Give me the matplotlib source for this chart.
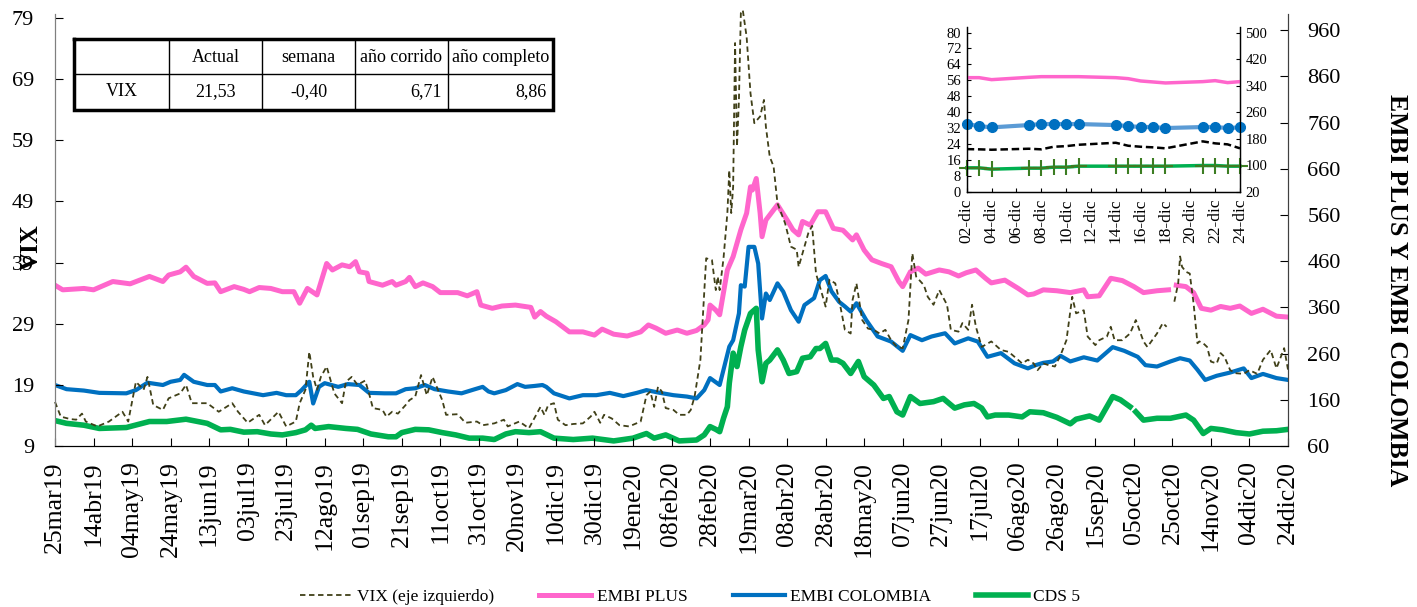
import matplotlib
matplotlib.use("Agg")
import matplotlib.pyplot as plt
import numpy as np
import pandas as pd

plt.rcParams['font.family'] = ['Liberation Serif', 'DejaVu Serif']

nan = np.nan
start = pd.Timestamp("2019-03-25")

# ---- datos diarios (dias desde 25mar19) ----
vix_day = [0, 3, 8, 11, 14, 16, 22, 28, 35, 38,
           42, 46, 48, 51, 56, 59, 65, 68, 71, 79,
           85, 92, 95, 100, 106, 109, 116, 120, 125, 127,
           130, 132, 134, 136, 138, 141, 143, 145, 149, 151,
           154, 157, 161, 163, 165, 170, 172, 175, 178, 182,
           184, 187, 190, 193, 196, 201, 203, 209, 213, 219,
           222, 228, 233, 235, 241, 246, 252, 254, 256, 259,
           261, 265, 269, 274, 278, 280, 283, 285, 289, 293,
           298, 304, 307, 309, 311, 313, 315, 317, 321, 324,
           328, 330, 332, 335, 338, 341, 343, 344, 345, 347,
           349, 350, 351, 352, 353, 354, 355, 356, 357, 359,
           361, 363, 366, 368, 369, 371, 373, 375, 379, 382,
           385, 386, 388, 391, 393, 395, 398, 400, 402, 405,
           407, 410, 413, 414, 416, 419, 422, 425, 428, 431,
           434, 437, 440, 443, 445, 447, 451, 453, 456, 459,
           463, 465, 469, 471, 474, 476, 478, 481, 486, 491,
           495, 498, 502, 505, 508, 510, 513, 516, 519, 522,
           525, 528, 530, 534, 536, 540, 542, 546, 548, 550,
           554, 558, 561, 565, 567, 572, 575, 577, 579, 581,
           583, 584, 585, 587, 589, 591, 593, 594, 596, 598,
           600, 603, 605, 607, 610, 613, 617, 620, 624, 627,
           631, 634, 638, 640]
vix = [16.2, 13.8, 13.4, 13.3, 14.3, 13.0, 12.2, 13.0, 14.6, 13.0,
       19.5, 18.2, 20.3, 15.7, 14.9, 16.8, 17.6, 19.0, 16.0, 16.0,
       14.6, 16.0, 14.6, 12.8, 14.1, 12.4, 14.6, 12.2, 13.0, 16.0,
       18.2, 24.4, 20.3, 18.2, 20.3, 22.0, 19.8, 17.6, 16.0, 19.5,
       20.3, 19.0, 19.7, 17.6, 15.2, 14.9, 13.8, 14.6, 14.3, 15.7,
       16.5, 17.1, 20.6, 17.3, 20.3, 16.5, 14.1, 14.2, 12.8, 13.0,
       12.4, 12.7, 13.3, 12.2, 13.0, 11.9, 15.4, 14.1, 15.7, 16.0,
       13.3, 12.4, 12.6, 12.7, 13.8, 14.6, 12.8, 14.1, 13.5, 12.4,
       12.2, 13.0, 17.3, 17.9, 15.4, 18.7, 17.9, 15.2, 14.9, 14.1,
       14.1, 14.9, 17.1, 23.1, 39.7, 39.4, 34.5, 36.7, 34.5, 39.7,
       47.1, 54.1, 47.1, 51.4, 74.9, 58.0, 65.6, 79.8, 80.3, 75.9,
       66.7, 61.8, 62.9, 65.6, 61.2, 56.3, 54.7, 48.7, 45.4, 41.6,
       41.1, 38.3, 40.5, 43.8, 45.0, 37.2, 34.0, 31.8, 36.2, 35.6,
       32.9, 28.0, 27.4, 32.9, 35.6, 29.6, 28.2, 28.0, 27.4, 28.0,
       26.3, 25.2, 25.0, 29.6, 40.5, 36.7, 35.3, 33.4, 32.1, 34.5,
       32.1, 28.0, 27.7, 29.1, 28.0, 32.1, 28.5, 25.2, 26.1, 24.7,
       24.4, 23.6, 22.5, 23.1, 22.5, 21.4, 22.5, 22.2, 22.0, 23.9,
       26.3, 33.4, 30.7, 31.2, 26.9, 25.5, 26.3, 26.9, 28.5, 26.3,
       26.3, 27.4, 29.6, 26.1, 25.2, 27.4, 29.1, 28.5, nan, 32.6,
       35.6, 40.0, 38.3, 37.5, 37.2, 32.3, 25.8, 26.1, 25.8, 25.2,
       22.8, 22.5, 24.2, 23.6, 21.4, 20.9, 20.8, 21.4, 20.8, 23.1,
       24.7, 21.7, 25.0, 21.5]

embi_plus_day = [0, 4, 15, 20, 30, 39, 44, 49, 56, 59,
                 65, 68, 72, 79, 83, 86, 93, 98, 101, 106,
                 112, 118, 124, 127, 131, 136, 141, 144, 149, 153,
                 156, 158, 162, 163, 170, 175, 177, 182, 184, 187,
                 191, 196, 200, 204, 209, 214, 219, 221, 227, 232,
                 239, 244, 247, 249, 252, 255, 260, 267, 274, 280,
                 284, 290, 297, 304, 308, 312, 317, 323, 328, 333,
                 337, 339, 340, 343, 345, 349, 352, 356, 359, 361,
                 362, 364, 366, 367, 369, 375, 380, 383, 386, 388,
                 392, 396, 400, 404, 409, 414, 416, 420, 424, 429,
                 434, 438, 440, 444, 448, 452, 459, 464, 469, 473,
                 478, 483, 486, 493, 500, 505, 508, 513, 520, 527,
                 534, 536, 542, 548, 554, 560, 565, 572, 578, 580,
                 582, 587, 591, 595, 600, 605, 610, 615, 621, 627,
                 634, 640]
embi_plus = [408, 398, 401, 398, 416, 411, 419, 427, 416, 430,
             437, 447, 427, 412, 413, 394, 405, 399, 394, 403,
             401, 394, 394, 369, 401, 387, 455, 441, 452, 448,
             459, 437, 434, 416, 408, 416, 408, 416, 425, 405,
             413, 405, 392, 392, 392, 385, 394, 365, 358, 363,
             365, 362, 360, 339, 351, 341, 329, 307, 307, 300,
             313, 302, 298, 307, 322, 315, 304, 311, 304, 310,
             322, 333, 365, 354, 344, 441, 470, 528, 564, 621,
             614, 639, 564, 513, 549, 582, 549, 528, 517, 546,
             538, 567, 567, 531, 527, 506, 517, 484, 463, 455,
             448, 416, 405, 437, 445, 432, 441, 437, 428, 435,
             441, 423, 413, 419, 401, 387, 389, 398, 396, 392,
             398, 383, 385, 423, 418, 405, 392, 396, 398, nan,
             408, 405, 392, 358, 354, 362, 358, 363, 347, 356,
             341, 339]

embi_col_day = [0, 6, 15, 23, 37, 42, 48, 56, 60, 65,
                67, 72, 79, 83, 86, 92, 98, 103, 108, 115,
                120, 125, 128, 132, 134, 137, 140, 147, 152, 158,
                163, 171, 177, 182, 187, 192, 197, 204, 211, 218,
                222, 225, 228, 234, 240, 244, 249, 253, 255, 259,
                267, 274, 281, 288, 295, 302, 307, 314, 321, 328,
                333, 337, 340, 345, 350, 352, 355, 356, 358, 360,
                363, 365, 367, 369, 371, 375, 378, 382, 386, 389,
                394, 397, 400, 403, 407, 410, 413, 416, 421, 427,
                434, 440, 444, 450, 455, 462, 467, 474, 479, 484,
                491, 498, 505, 509, 513, 518, 522, 527, 534, 541,
                549, 555, 562, 566, 572, 579, 584, 589, 593, 597,
                603, 610, 617, 621, 627, 634, 640]
embi_col = [192, 183, 180, 175, 174, 181, 197, 192, 199, 203,
            214, 199, 192, 192, 178, 185, 178, 174, 170, 175,
            170, 170, 181, 199, 152, 188, 196, 188, 194, 192,
            175, 174, 174, 183, 185, 192, 183, 178, 174, 183,
            188, 178, 174, 181, 194, 188, 190, 192, 188, 174,
            163, 170, 170, 175, 168, 175, 181, 175, 170, 167,
            163, 181, 207, 192, 275, 289, 347, 408, 405, 491,
            491, 455, 336, 390, 376, 412, 394, 354, 329, 365,
            380, 419, 428, 395, 372, 362, 351, 369, 333, 297,
            286, 266, 300, 289, 297, 304, 282, 293, 286, 253,
            261, 239, 228, 235, 240, 243, 255, 243, 252, 245,
            274, 266, 253, 235, 232, 243, 250, 245, 225, 203,
            212, 219, 228, 207, 216, 207, 203]

cds_day = [0, 6, 15, 23, 37, 49, 58, 68, 79, 86,
           91, 98, 105, 112, 118, 125, 130, 133, 135, 142,
           151, 157, 164, 173, 177, 180, 187, 194, 201, 208,
           215, 222, 228, 234, 239, 246, 252, 259, 269, 279,
           290, 300, 307, 311, 317, 324, 333, 337, 340, 343,
           345, 347, 349, 350, 352, 354, 356, 358, 361, 364,
           365, 367, 369, 371, 375, 378, 381, 385, 388, 392,
           395, 397, 400, 403, 406, 409, 413, 417, 420, 425,
           430, 433, 437, 440, 444, 449, 456, 461, 467, 472,
           477, 481, 484, 488, 495, 502, 506, 513, 520, 527,
           530, 537, 542, 549, 553, 558, 559, 561, 565, 572,
           579, 587, 591, 596, 600, 606, 613, 620, 627, 634,
           640]
cds = [115, 109, 105, 98, 100, 113, 113, 118, 109, 95,
       96, 90, 91, 86, 84, 89, 95, 105, 98, 102,
       98, 96, 86, 80, 80, 89, 96, 95, 89, 84,
       77, 77, 74, 86, 91, 89, 91, 77, 74, 77,
       71, 77, 87, 77, 84, 71, 73, 84, 102, 96,
       91, 120, 145, 196, 261, 232, 275, 311, 347, 358,
       268, 199, 239, 246, 268, 246, 217, 221, 250, 253,
       271, 271, 282, 246, 246, 239, 217, 243, 210, 192,
       163, 167, 134, 127, 167, 152, 156, 163, 142, 149,
       152, 142, 123, 127, 127, 123, 134, 132, 122, 108,
       118, 125, 116, 167, 160, 145, nan, 134, 116, 120,
       120, 127, 116, 87, 98, 95, 89, 86, 92, 93,
       96]

x_tick_labels = ["25mar19", "14abr19", "04may19", "24may19", "13jun19", "03jul19",
                 "23jul19", "12ago19", "01sep19", "21sep19", "11oct19", "31oct19",
                 "20nov19", "10dic19", "30dic19", "19ene20", "08feb20", "28feb20",
                 "19mar20", "08abr20", "28abr20", "18may20", "07jun20", "27jun20",
                 "17jul20", "06ago20", "26ago20", "15sep20", "05oct20", "25oct20",
                 "14nov20", "04dic20", "24dic20"]

# ---- detalle diciembre 2020 ----
inset_day = [2, 3, 4, 7, 8, 9, 10, 11, 14, 15, 16, 17, 18, 21, 22, 23, 24]
inset_vix = [21.4, 21.3, 21.1, 21.6, 21.3, 22.6, 22.9, 23.6, 24.6, 23.1,
             22.6, 22.3, 21.8, 25.3, 24.3, 23.8, 21.8]
inset_embi_plus = [364, 364, 358, 365, 367, 367, 367, 367, 364, 361,
                   354, 351, 348, 352, 355, 349, 352]
inset_embi_col = [224, 218, 214, 221, 224, 224, 224, 224, 221, 218,
                  215, 215, 212, 215, 215, 212, 214]
inset_cds = [92, 92, 88, 91, 91, 94, 94, 97, 97, 97,
             97, 97, 97, 99, 99, 97, 97]

# ---- tabla ----
table_header = ["", "Actual", "semana", "año corrido", "año completo"]
table_row = ["VIX", "21,53", "-0,40", "6,71", "8,86"]

PINK = "#FF66CC"
BLUE = "#0070C0"
GREEN = "#00B050"
OLIVE = "#404018"


def to_dates(days):
    return start + pd.to_timedelta(days, unit="D")


W, H = 1417, 607
fig = plt.figure(figsize=(W / 100, H / 100), dpi=100)

ax = fig.add_axes([55 / W, 161 / H, 1233 / W, 432 / H])
ax2 = ax.twinx()
ax.set_zorder(ax2.get_zorder() + 1)
ax.patch.set_visible(False)

l_plus, = ax2.plot(to_dates(embi_plus_day), embi_plus, color=PINK, lw=3.6)
l_col, = ax2.plot(to_dates(embi_col_day), embi_col, color=BLUE, lw=3.0)
l_cds, = ax2.plot(to_dates(cds_day), cds, color=GREEN, lw=4.0)
l_vix, = ax.plot(to_dates(vix_day), vix, color=OLIVE, lw=1.3,
                 ls=(0, (3, 2)), clip_on=False)

ax.set_xlim(start, start + pd.Timedelta(days=640))
ax.set_ylim(9, 79.65)
ax2.set_ylim(60, 995)
ax.set_yticks(np.arange(9, 80, 10))
ax2.set_yticks(np.arange(60, 961, 100))
tick_pos = [start + pd.Timedelta(days=20 * i) for i in range(len(x_tick_labels))]
ax.set_xticks(tick_pos)
ax.set_xticklabels(x_tick_labels, rotation=90, fontsize=18.5)

for a in (ax, ax2):
    a.spines["top"].set_visible(False)
    a.spines["left"].set_color("#7f7f7f")
    a.spines["right"].set_color("#404040")
    a.spines["bottom"].set_color("black")
ax.tick_params(axis="x", direction="in", length=6, pad=11)
ax.tick_params(axis="y", direction="in", length=6, pad=15, labelsize=16)
ax2.tick_params(axis="y", direction="in", length=6, pad=14, labelsize=16)

fig.text(31 / W, 1 - 247 / H, "VIX", rotation=90, fontsize=18,
         fontweight="bold", ha="center", va="center")
fig.text(1396 / W, 1 - 290 / H, "EMBI PLUS Y EMBI COLOMBIA", rotation=270,
         fontsize=18.5, fontweight="bold", ha="center", va="center")

fig.legend([l_vix, l_plus, l_col, l_cds],
           ["VIX (eje izquierdo)", "EMBI PLUS", "EMBI COLOMBIA", "CDS 5"],
           loc="center", bbox_to_anchor=(0.487, 0.017), ncol=4, frameon=False,
           fontsize=12.5, handlelength=3.0, handletextpad=0.3, columnspacing=2.6)

# ---- inset ----
ins = fig.add_axes([966.7 / W, (H - 191.7) / H, 273.3 / W, 164.7 / H])
ins.set_zorder(5)
ins2 = ins.twinx()
ins2.set_zorder(6)
ins.plot(inset_day, inset_vix, color="black", lw=1.8, ls=(0, (3, 1.5)))
ins2.plot(inset_day, inset_embi_plus, color=PINK, lw=2.5)
ins2.plot(inset_day, inset_embi_col, color="#5B9BD5", lw=3.0, marker="o",
          ms=7, mfc=BLUE, mec=BLUE, clip_on=False)
ins2.plot(inset_day, inset_cds, color=GREEN, lw=2.5, marker="+", ms=12,
          mew=1.5, mec="#3C7D22", clip_on=False)
ins.set_xlim(2, 24)
ins.set_ylim(0, 82.8)
ins2.set_ylim(20, 516.8)
ins.set_yticks(np.arange(0, 81, 8))
ins2.set_yticks(np.arange(20, 501, 80))
ins.set_xticks(range(2, 25, 2))
ins.set_xticklabels([f"{d:02d}-dic" for d in range(2, 25, 2)], rotation=90,
                    fontsize=12.5)
for a in (ins, ins2):
    a.spines["top"].set_visible(False)
    for s in ("left", "right", "bottom"):
        a.spines[s].set_linewidth(0.9)
ins.tick_params(axis="x", direction="in", length=3, pad=5)
ins.tick_params(axis="y", direction="in", length=3, pad=4, labelsize=10.5)
ins2.tick_params(axis="y", direction="in", length=3, pad=4, labelsize=10.5)

# ---- tabla (coordenadas en pixeles) ----
col_edges = [74, 169, 262, 355, 448, 553]
tab = fig.add_axes([74 / W, 1 - 110 / H, 479 / W, 71 / H])
tab.set_xlim(74, 553)
tab.set_ylim(110, 39)
tab.axis("off")
for xe in col_edges[1:-1]:
    tab.plot([xe, xe], [39, 110], color="black", lw=1)
tab.plot([74, 553], [74, 74], color="black", lw=1)
tab.plot([74, 553, 553, 74, 74], [39, 39, 110, 110, 39], color="black",
         lw=2.5, solid_joinstyle="miter", clip_on=False)
for i, txt in enumerate(table_header):
    cx = (col_edges[i] + col_edges[i + 1]) / 2
    tab.text(cx, 57, txt, ha="center", va="center", fontsize=13)
for i, txt in enumerate(table_row):
    if i < 3:
        tab.text((col_edges[i] + col_edges[i + 1]) / 2, 92, txt,
                 ha="center", va="center", fontsize=13)
    else:
        tab.text(col_edges[i + 1] - 6, 92, txt, ha="right", va="center",
                 fontsize=13)

fig.savefig("out.png", dpi=100)
